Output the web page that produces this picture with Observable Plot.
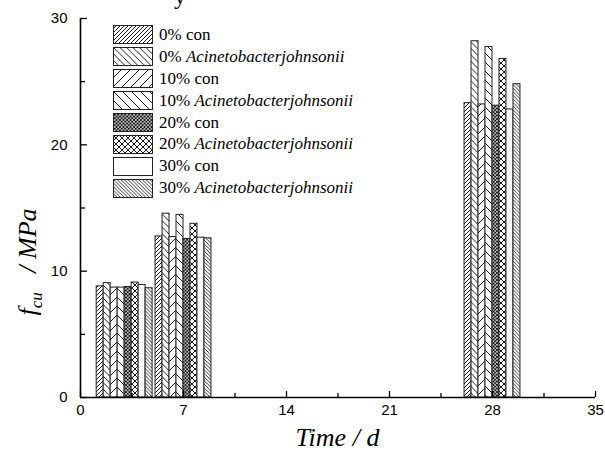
<!DOCTYPE html>
<html><head><meta charset="utf-8">
<script src="https://cdn.jsdelivr.net/npm/d3@7"></script>
<script src="https://cdn.jsdelivr.net/npm/@observablehq/plot@0.6"></script>
<style>
body{margin:0;background:#fff;}
#wrap{position:relative;width:605px;height:461px;overflow:hidden;background:#fff;}
.serif{font-family:"Liberation Serif","Times New Roman",serif;color:#000;}
#legend{position:absolute;left:113px;top:24px;}
.row{height:21.9px;display:flex;align-items:center;white-space:nowrap;font-size:17px;}
.row svg{margin-right:6px;flex:none;}
#xlab{position:absolute;left:0;width:605px;padding-left:70px;box-sizing:border-box;text-align:center;top:423px;font-size:26px;font-style:italic;}
#ylab{position:absolute;left:30px;top:262px;transform:translate(-50%,-50%) rotate(-90deg);font-size:26px;font-style:italic;white-space:nowrap;}
#frag{position:absolute;left:174px;top:-16px;font-size:24px;line-height:24px;}
</style></head><body>
<svg width="0" height="0" style="position:absolute">
<defs>
 <pattern id="p0" patternUnits="userSpaceOnUse" width="4" height="4"><rect width="4" height="4" fill="#fff"/><path d="M-1,1L1,-1M0,4L4,0M3,5L5,3" stroke="#000" stroke-width="0.9"/></pattern>
 <pattern id="p1" patternUnits="userSpaceOnUse" width="6.5" height="6.5"><rect width="6.5" height="6.5" fill="#fff"/><path d="M-1,5.5L1,7.5M0,0L6.5,6.5M5.5,-1L7.5,1" stroke="#000" stroke-width="0.9"/></pattern>
 <pattern id="p2" patternUnits="userSpaceOnUse" width="9" height="9"><rect width="9" height="9" fill="#fff"/><path d="M-1,1L1,-1M0,9L9,0M8,10L10,8" stroke="#000" stroke-width="0.9"/></pattern>
 <pattern id="p3" patternUnits="userSpaceOnUse" width="9" height="9"><rect width="9" height="9" fill="#fff"/><path d="M-1,8L1,10M0,0L9,9M8,-1L10,1" stroke="#000" stroke-width="0.9"/></pattern>
 <pattern id="p4" patternUnits="userSpaceOnUse" width="3.5" height="3.5"><rect width="3.5" height="3.5" fill="#fff"/><path d="M-1,1L1,-1M0,3.5L3.5,0M2.5,4.5L4.5,2.5M-1,2.5L1,4.5M0,0L3.5,3.5M2.5,-1L4.5,1" stroke="#000" stroke-width="0.9"/></pattern>
 <pattern id="p5" patternUnits="userSpaceOnUse" width="6" height="6"><rect width="6" height="6" fill="#fff"/><path d="M-1,1L1,-1M0,6L6,0M5,7L7,5M-1,5L1,7M0,0L6,6M5,-1L7,1" stroke="#000" stroke-width="0.9"/></pattern>
 <pattern id="p6" patternUnits="userSpaceOnUse" width="4" height="4"><rect width="4" height="4" fill="#fff"/></pattern>
 <pattern id="p7" patternUnits="userSpaceOnUse" width="3.6" height="3.6"><rect width="3.6" height="3.6" fill="#fff"/><path d="M-1,2.6L1,4.6M0,0L3.6,3.6M2.6,-1L4.6,1" stroke="#000" stroke-width="0.8"/></pattern>
</defs></svg>
<div id="wrap">
  <div id="frag" class="serif">y</div>
  <div id="legend" class="serif"></div>
  <div id="xlab" class="serif">Time / d</div>
  <div id="ylab" class="serif">f<sub style="font-size:17px;vertical-align:-6px">cu</sub>&nbsp;&nbsp;&nbsp;/ MPa</div>
</div>
<script>
// ---- data ----
const days = [3, 7, 28];
const seriesLabels = ["0% con", "0% Acinetobacterjohnsonii", "10% con", "10% Acinetobacterjohnsonii",
                      "20% con", "20% Acinetobacterjohnsonii", "30% con", "30% Acinetobacterjohnsonii"];
const legendPrefix = ["0%", "0%", "10%", "10%", "20%", "20%", "30%", "30%"];
const legendName = ["con", "Acinetobacterjohnsonii", "con", "Acinetobacterjohnsonii",
                    "con", "Acinetobacterjohnsonii", "con", "Acinetobacterjohnsonii"];
const con0 = [8.8, 12.75, 23.3];
const aj0  = [9.05, 14.55, 28.2];
const con10 = [8.7, 12.7, 23.2];
const aj10  = [8.7, 14.45, 27.75];
const con20 = [8.75, 12.55, 23.1];
const aj20  = [9.1, 13.75, 26.8];
const con30 = [8.9, 12.65, 22.8];
const aj30  = [8.65, 12.6, 24.8];
const seriesValues = [con0, aj0, con10, aj10, con20, aj20, con30, aj30];
const xTicks = [0, 7, 14, 21, 28, 35];
const xMinor = [3.5, 10.5, 17.5, 24.5, 31.5];
const yTicks = [0, 10, 20, 30];
const yMinor = [5, 15, 25];

// ---- chart ----
const W = 605, H = 461, mL = 80, mR = 10, mT = 18, mB = 64;
const fw = W - mL - mR, fh = H - mT - mB;
const barW = 3.8 / seriesLabels.length;
const rows = [];
seriesValues.forEach((vals, i) => vals.forEach((v, j) => rows.push({i, day: days[j], v})));

const barMarks = seriesLabels.map((s, i) =>
  Plot.rectY(rows.filter(r => r.i === i), {
    x1: r => r.day - 4 * barW + r.i * barW,
    x2: r => r.day - 4 * barW + (r.i + 1) * barW,
    y: "v",
    fill: `url(#p${i})`,
    stroke: "#222",
    strokeWidth: 1
  })
);

const chart = Plot.plot({
  width: W, height: H,
  marginLeft: mL, marginRight: mR, marginTop: mT, marginBottom: mB,
  style: {fontFamily: "'Liberation Sans', Arial, sans-serif", fontSize: "15px", color: "#000", background: "transparent", overflow: "visible"},
  x: {domain: [0, 35], ticks: xTicks, tickSize: 0, tickPadding: 7, tickFormat: d => String(d), label: null},
  y: {domain: [0, 30], ticks: yTicks, tickSize: 0, tickPadding: 13, tickFormat: d => String(d), label: null},
  marks: [
    ...barMarks,
    Plot.tickX(xTicks, {x: d => d, insetTop: fh - 6, stroke: "#000", strokeWidth: 1.3}),
    Plot.tickX(xMinor, {x: d => d, insetTop: fh - 4, stroke: "#000", strokeWidth: 1.3}),
    Plot.tickY(yTicks, {y: d => d, insetRight: fw - 7, stroke: "#000", strokeWidth: 1.3}),
    Plot.tickY(yMinor, {y: d => d, insetRight: fw - 5, stroke: "#000", strokeWidth: 1.3}),
    Plot.ruleY([0], {stroke: "#000", strokeWidth: 1.6}),
    Plot.ruleX([0], {stroke: "#000", strokeWidth: 1.6})
  ]
});
chart.style.position = "absolute";
chart.style.left = "0";
chart.style.top = "0";
const wrap = document.getElementById("wrap");
wrap.insertBefore(chart, wrap.firstChild);

// ---- legend ----
const legend = document.getElementById("legend");
seriesLabels.forEach((s, i) => {
  const row = document.createElement("div");
  row.className = "row";
  row.innerHTML = `<svg width="40" height="19"><rect x="0.5" y="0.5" width="39" height="18" fill="url(#p${i})" stroke="#222" stroke-width="1"/></svg>` +
    `<span>${legendPrefix[i]} ${legendName[i] === "con" ? "con" : "<i>" + legendName[i] + "</i>"}</span>`;
  legend.appendChild(row);
});
</script>
</body></html>
